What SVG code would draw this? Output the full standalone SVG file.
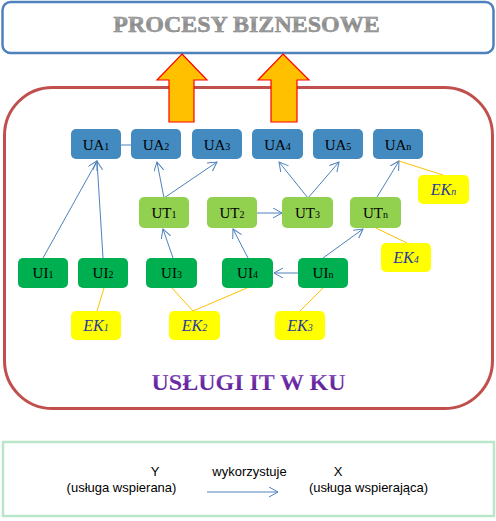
<svg xmlns="http://www.w3.org/2000/svg" width="496" height="521" viewBox="0 0 496 521">
<style>
.ua{fill:#428ABF}
.ut{fill:#92D050}
.ui{fill:#00B050}
.ek{fill:#FFFF00}
.lbl{font-size:15px;fill:#000;text-anchor:middle}
.sub{font-size:10px}
.ekl{font-size:16px;font-style:italic;fill:#2B3A9E;text-anchor:middle}
.con{stroke:#4F81BD;stroke-width:1;fill:none}
.ekc{stroke:#FFC000;stroke-width:1;fill:none}
.leg{font-size:13px;fill:#000;text-anchor:middle}
</style>
<defs>
<marker id="arr" markerUnits="userSpaceOnUse" markerWidth="12" markerHeight="12" refX="9" refY="5" orient="auto">
<path d="M0,0 L9,5 L0,10" fill="none" stroke="#4F81BD" stroke-width="1"/>
</marker>
<linearGradient id="grey" x1="0" y1="0" x2="0" y2="1">
<stop offset="0" stop-color="#D0D0D0"/>
<stop offset="0.5" stop-color="#8C8C8C"/>
<stop offset="1" stop-color="#B0B0B0"/>
</linearGradient>
<linearGradient id="purple" x1="0" y1="0" x2="0" y2="1">
<stop offset="0" stop-color="#9A6BC8"/>
<stop offset="0.5" stop-color="#6A2AA6"/>
<stop offset="1" stop-color="#5A2090"/>
</linearGradient>
</defs>

<g id="procesy">
<rect x="2.5" y="2" width="491" height="51" rx="8" fill="#fff" stroke="#4F81BD" stroke-width="2.5"/>
<text x="246.5" y="32" font-family="Liberation Serif" font-size="24" font-weight="bold" text-anchor="middle" fill="url(#grey)" stroke="#7F7F7F" stroke-width="0.5">PROCESY BIZNESOWE</text>
</g>

<g id="uslugi">
<rect x="4.5" y="87.5" width="488" height="321" rx="48" fill="#fff" stroke="#C0504D" stroke-width="3"/>
<text x="248.5" y="390" font-family="Liberation Serif" font-size="24" font-weight="bold" text-anchor="middle" fill="url(#purple)">USŁUGI IT W KU</text>
</g>

<g id="arrows-up">
<polygon points="182,54 207,80 194,80 194,122 169,122 169,80 157,80" fill="#FFC000" stroke="#FF0000" stroke-width="1.2"/>
<polygon points="283,54 309,80 297,80 297,122 271,122 271,80 258,80" fill="#FFC000" stroke="#FF0000" stroke-width="1.2"/>
</g>

<g id="connectors">
<line class="con" x1="121" y1="145" x2="131" y2="145"/>
<line class="con" x1="43" y1="258" x2="97" y2="161" marker-end="url(#arr)"/>
<line class="con" x1="103" y1="258" x2="97" y2="161" marker-end="url(#arr)"/>
<line class="con" x1="164" y1="198" x2="157" y2="162" marker-end="url(#arr)"/>
<line class="con" x1="164" y1="198" x2="217" y2="162" marker-end="url(#arr)"/>
<line class="con" x1="308" y1="198" x2="279" y2="162" marker-end="url(#arr)"/>
<line class="con" x1="308" y1="198" x2="339" y2="162" marker-end="url(#arr)"/>
<line class="con" x1="377" y1="197" x2="399" y2="161" marker-end="url(#arr)"/>
<line class="con" x1="257" y1="213" x2="282" y2="213" marker-end="url(#arr)"/>
<line class="con" x1="173" y1="258" x2="163" y2="229" marker-end="url(#arr)"/>
<line class="con" x1="248" y1="258" x2="233" y2="229" marker-end="url(#arr)"/>
<line class="con" x1="323" y1="258" x2="363" y2="229" marker-end="url(#arr)"/>
<line class="con" x1="298" y1="273" x2="274" y2="273" marker-end="url(#arr)"/>
<line class="ekc" x1="399" y1="161" x2="443" y2="175"/>
<line class="ekc" x1="376" y1="228" x2="407" y2="243"/>
<line class="ekc" x1="104" y1="288" x2="97" y2="311"/>
<line class="ekc" x1="172" y1="288" x2="193" y2="311"/>
<line class="ekc" x1="247" y1="288" x2="193" y2="311"/>
<line class="ekc" x1="323" y1="288" x2="300" y2="311"/>
</g>

<g id="UA1"><rect class="ua" x="71" y="129" width="50" height="30" rx="5"/><text class="lbl" font-family="Liberation Serif" x="96" y="149.5">UA<tspan class="sub">1</tspan></text></g>
<g id="UA2"><rect class="ua" x="131" y="129" width="50" height="30" rx="5"/><text class="lbl" font-family="Liberation Serif" x="156" y="149.5">UA<tspan class="sub">2</tspan></text></g>
<g id="UA3"><rect class="ua" x="192" y="129" width="50" height="30" rx="5"/><text class="lbl" font-family="Liberation Serif" x="217" y="149.5">UA<tspan class="sub">3</tspan></text></g>
<g id="UA4"><rect class="ua" x="252" y="129" width="51" height="30" rx="5"/><text class="lbl" font-family="Liberation Serif" x="277.5" y="149.5">UA<tspan class="sub">4</tspan></text></g>
<g id="UA5"><rect class="ua" x="313" y="129" width="50" height="30" rx="5"/><text class="lbl" font-family="Liberation Serif" x="338" y="149.5">UA<tspan class="sub">5</tspan></text></g>
<g id="UAn"><rect class="ua" x="373" y="129" width="50" height="30" rx="5"/><text class="lbl" font-family="Liberation Serif" x="398" y="149.5">UA<tspan class="sub">n</tspan></text></g>

<g id="UT1"><rect class="ut" x="139" y="197" width="50" height="31" rx="5"/><text class="lbl" font-family="Liberation Serif" x="164" y="218">UT<tspan class="sub">1</tspan></text></g>
<g id="UT2"><rect class="ut" x="207" y="197" width="50" height="31" rx="5"/><text class="lbl" font-family="Liberation Serif" x="232" y="218">UT<tspan class="sub">2</tspan></text></g>
<g id="UT3"><rect class="ut" x="282" y="197" width="51" height="31" rx="5"/><text class="lbl" font-family="Liberation Serif" x="307.5" y="218">UT<tspan class="sub">3</tspan></text></g>
<g id="UTn"><rect class="ut" x="350" y="197" width="51" height="31" rx="5"/><text class="lbl" font-family="Liberation Serif" x="375.5" y="218">UT<tspan class="sub">n</tspan></text></g>

<g id="UI1"><rect class="ui" x="18" y="258" width="50" height="30" rx="5"/><text class="lbl" font-family="Liberation Serif" x="43" y="278">UI<tspan class="sub">1</tspan></text></g>
<g id="UI2"><rect class="ui" x="78" y="258" width="50" height="30" rx="5"/><text class="lbl" font-family="Liberation Serif" x="103" y="278">UI<tspan class="sub">2</tspan></text></g>
<g id="UI3"><rect class="ui" x="146" y="258" width="51" height="30" rx="5"/><text class="lbl" font-family="Liberation Serif" x="171.5" y="278">UI<tspan class="sub">3</tspan></text></g>
<g id="UI4"><rect class="ui" x="222" y="258" width="51" height="30" rx="5"/><text class="lbl" font-family="Liberation Serif" x="247.5" y="278">UI<tspan class="sub">4</tspan></text></g>
<g id="UIn"><rect class="ui" x="298" y="258" width="50" height="30" rx="5"/><text class="lbl" font-family="Liberation Serif" x="323" y="278">UI<tspan class="sub">n</tspan></text></g>

<g id="EK1"><rect class="ek" x="71" y="311" width="50" height="29" rx="5"/><text class="ekl" font-family="Liberation Serif" x="96" y="331">EK<tspan class="sub">1</tspan></text></g>
<g id="EK2"><rect class="ek" x="169" y="311" width="51" height="29" rx="5"/><text class="ekl" font-family="Liberation Serif" x="194.5" y="331">EK<tspan class="sub">2</tspan></text></g>
<g id="EK3"><rect class="ek" x="275" y="311" width="50" height="29" rx="5"/><text class="ekl" font-family="Liberation Serif" x="300" y="331">EK<tspan class="sub">3</tspan></text></g>
<g id="EK4"><rect class="ek" x="381" y="243" width="50" height="29" rx="5"/><text class="ekl" font-family="Liberation Serif" x="406" y="263">EK<tspan class="sub">4</tspan></text></g>
<g id="EKn"><rect class="ek" x="418" y="175" width="51" height="29" rx="5"/><text class="ekl" font-family="Liberation Serif" x="443.5" y="195">EK<tspan class="sub">n</tspan></text></g>

<g id="legend">
<rect x="3" y="442" width="491" height="74" fill="#fff" stroke="#B9E5C8" stroke-width="2.5"/>
<text class="leg" font-family="Liberation Sans" x="155" y="476">Y</text>
<text class="leg" font-family="Liberation Sans" x="121.5" y="492">(usługa wspierana)</text>
<text class="leg" font-family="Liberation Sans" x="249.5" y="476">wykorzystuje</text>
<text class="leg" font-family="Liberation Sans" x="338" y="476">X</text>
<text class="leg" font-family="Liberation Sans" x="368.5" y="492">(usługa wspierająca)</text>
<line class="con" x1="207" y1="492" x2="278" y2="492" marker-end="url(#arr)"/>
</g>
</svg>
